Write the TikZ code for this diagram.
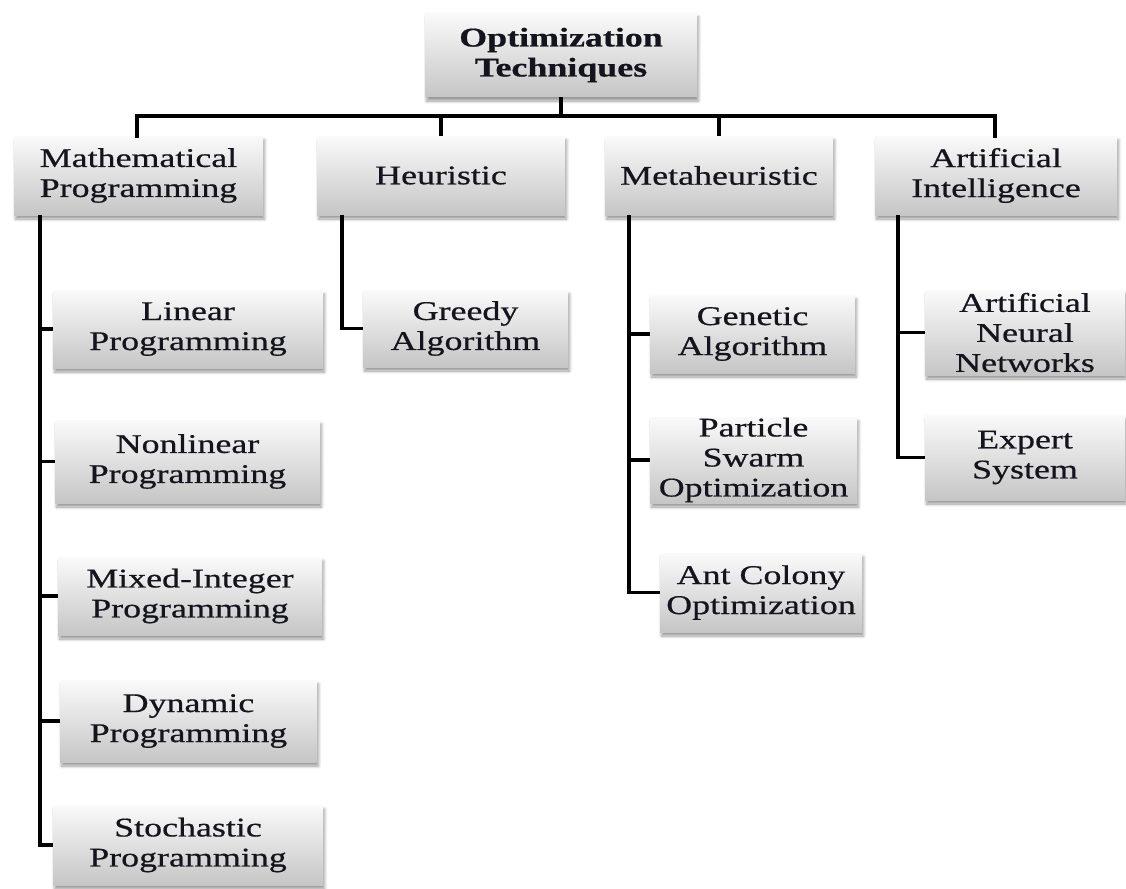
\documentclass[tikz,border=0pt]{standalone}
\usepackage{fontspec}
\setmainfont{Liberation Serif}[FakeStretch=1.33, FakeBold=0.6]
\usetikzlibrary{shadows.blur}
\definecolor{inktext}{HTML}{14141E}
\begin{document}
\begin{tikzpicture}[x=1pt,y=-1pt,
  catbox/.style={rectangle, inner sep=0pt, align=center, text=inktext,
    font=\fontsize{27}{30}\selectfont,
    top color=gray!4, bottom color=gray!45,
    blur shadow={shadow xshift=1.5pt, shadow yshift=-4pt, shadow blur steps=6,
                 shadow opacity=40, shadow blur radius=3pt}},
  link/.style={line width=3.2pt, draw=black}]
\useasboundingbox (0,0) rectangle (1126,888);

% root
\node[catbox, minimum width=272, minimum height=84, font=\fontsize{27}{30}\selectfont\bfseries]
  (root) at (561,55) {Optimization\\Techniques};

% first level
\node[catbox, minimum width=249, minimum height=79] (math) at (138.5,175.5) {Mathematical\\Programming};
\node[catbox, minimum width=248, minimum height=79] (heur) at (441,175.5) {Heuristic};
\node[catbox, minimum width=228, minimum height=79] (meta) at (719,175.5) {Metaheuristic};
\node[catbox, minimum width=242, minimum height=79] (ai) at (996,175.5) {Artificial\\Intelligence};

% mathematical programming
\node[catbox, minimum width=270, minimum height=78] (lin) at (188,329) {Linear\\Programming};
\node[catbox, minimum width=265, minimum height=83] (nlin) at (187.5,461.5) {Nonlinear\\Programming};
\node[catbox, minimum width=264, minimum height=78] (mip) at (190,596) {Mixed-Integer\\Programming};
\node[catbox, minimum width=257, minimum height=82] (dyn) at (188.5,721) {Dynamic\\Programming};
\node[catbox, minimum width=270, minimum height=80] (sto) at (188,845) {Stochastic\\Programming};

% heuristic
\node[catbox, minimum width=205, minimum height=77] (greedy) at (465.5,328.5) {Greedy\\Algorithm};

% metaheuristic
\node[catbox, minimum width=205, minimum height=78] (ga) at (752.5,334) {Genetic\\Algorithm};
\node[catbox, minimum width=207, minimum height=86] (pso) at (753.5,460) {Particle\\Swarm\\Optimization};
\node[catbox, minimum width=202, minimum height=79] (aco) at (761,592.5) {Ant Colony\\Optimization};

% artificial intelligence
\node[catbox, minimum width=200, minimum height=85] (ann) at (1025,332.5) {Artificial\\Neural\\Networks};
\node[catbox, minimum width=200, minimum height=85] (es) at (1025,457.5) {Expert\\System};

% bus from the root to the four families
\coordinate (bus) at (561,116);
\draw[link] (root.south) -- (bus);
\draw[link, line cap=rect] (bus) -| (137,136) coordinate (mdrop);
\draw[link, line cap=rect] (bus) -| (995,136) coordinate (adrop);
\draw[link] (441,116) -- (heur.north);
\draw[link] (719,116) -- (meta.north);

% trunks to the leaf techniques
\coordinate (mtrunk) at (40,215);
\coordinate (htrunk) at (342,215);
\coordinate (etrunk) at (629,215);
\coordinate (atrunk) at (898,215);

\foreach \leaf in {lin,nlin,mip,dyn,sto}
  \draw[link] (mtrunk) |- (\leaf.west);
\draw[link] (htrunk) |- (greedy.west);
\foreach \leaf in {ga,pso,aco}
  \draw[link] (etrunk) |- (\leaf.west);
\foreach \leaf in {ann,es}
  \draw[link] (atrunk) |- (\leaf.west);
\end{tikzpicture}
\end{document}
